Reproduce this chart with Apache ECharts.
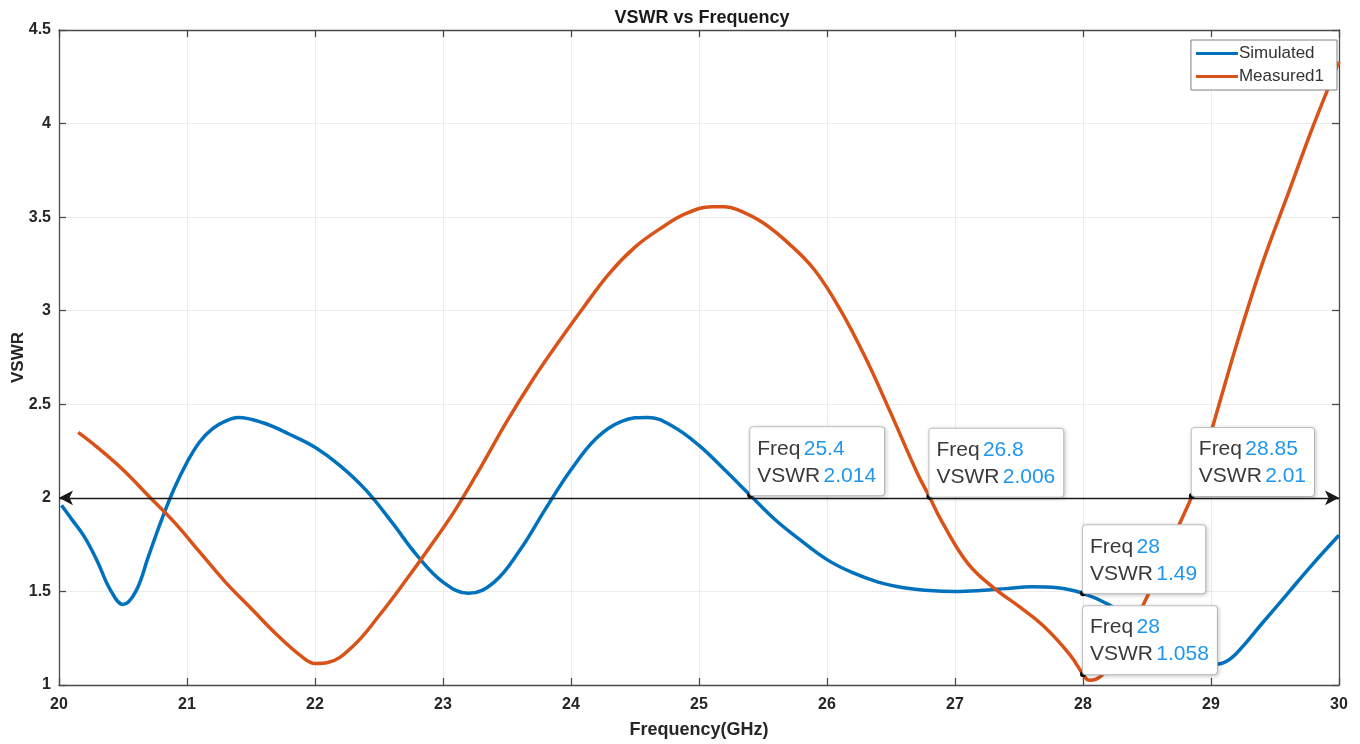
<!DOCTYPE html>
<html>
<head>
<meta charset="utf-8">
<title>VSWR vs Frequency</title>
<script src="https://cdn.jsdelivr.net/npm/echarts@6/dist/echarts.min.js"></script>
<style>
  html, body { margin: 0; padding: 0; background: #ffffff; }
  #chart { width: 1360px; height: 744px; }
</style>
</head>
<body>
<div id="chart"></div>
<script>
// Simulated VSWR (GHz, VSWR)
const simFreq = [20.02, 20.1, 20.2, 20.3, 20.4, 20.5, 20.6, 20.7, 20.8, 20.9, 21.0, 21.1, 21.2, 21.3, 21.4, 21.6, 21.8, 22.0, 22.2, 22.4, 22.6, 22.8, 23.0, 23.2, 23.4, 23.6, 23.8, 24.0, 24.2, 24.4, 24.6, 24.8, 25.0, 25.2, 25.4, 25.6, 25.8, 26.0, 26.2, 26.4, 26.6, 26.8, 27.0, 27.2, 27.4, 27.6, 27.8, 28.0, 28.2, 28.4, 28.6, 28.8, 29.0, 29.1, 29.2, 29.4, 29.6, 29.8, 30.0];
const simVswr = [1.96, 1.885, 1.79, 1.66, 1.51, 1.43, 1.50, 1.69, 1.88, 2.05, 2.19, 2.30, 2.37, 2.41, 2.43, 2.40, 2.34, 2.27, 2.17, 2.04, 1.87, 1.69, 1.55, 1.49, 1.55, 1.72, 1.94, 2.15, 2.32, 2.41, 2.43, 2.38, 2.28, 2.15, 2.014, 1.88, 1.77, 1.67, 1.60, 1.55, 1.52, 1.505, 1.50, 1.505, 1.515, 1.525, 1.52, 1.49, 1.43, 1.34, 1.24, 1.16, 1.11, 1.12, 1.17, 1.33, 1.49, 1.65, 1.80];

// Measured VSWR (GHz, VSWR)
const measFreq = [20.15, 20.3, 20.5, 20.7, 20.9, 21.1, 21.3, 21.5, 21.7, 21.9, 22.0, 22.1, 22.3, 22.5, 22.7, 22.9, 23.1, 23.3, 23.5, 23.7, 23.9, 24.1, 24.3, 24.5, 24.7, 24.9, 25.1, 25.2, 25.3, 25.5, 25.7, 25.9, 26.1, 26.3, 26.5, 26.7, 26.8, 26.9, 27.1, 27.3, 27.5, 27.7, 27.9, 28.0, 28.05, 28.1, 28.2, 28.3, 28.4, 28.5, 28.6, 28.7, 28.8, 28.85, 29.0, 29.2, 29.4, 29.6, 29.8, 30.0];
const measVswr = [2.35, 2.27, 2.15, 2.01, 1.87, 1.71, 1.55, 1.41, 1.27, 1.15, 1.115, 1.12, 1.21, 1.37, 1.55, 1.74, 1.94, 2.17, 2.41, 2.63, 2.83, 3.02, 3.20, 3.34, 3.44, 3.52, 3.555, 3.555, 3.54, 3.47, 3.36, 3.22, 3.01, 2.75, 2.45, 2.14, 2.006, 1.87, 1.65, 1.52, 1.42, 1.31, 1.16, 1.058, 1.025, 1.03, 1.09, 1.20, 1.33, 1.47, 1.62, 1.78, 1.93, 2.01, 2.35, 2.82, 3.25, 3.62, 3.99, 4.33];

// Data tips
const tipFreq = [25.4, 26.8, 28.85, 28, 28];
const tipVswr = [2.014, 2.006, 2.01, 1.49, 1.058];

// Reference level for the arrow line
const refLevel = 2;

const pairs = (xs, ys) => xs.map((x, i) => [x, ys[i]]);

const FONT = 'Liberation Sans, Arial, sans-serif';
const axisColor = '#4a4a4a';
const tickFont = { color: '#262626', fontSize: 16, fontWeight: 'bold', fontFamily: FONT };

const chart = echarts.init(document.getElementById('chart'), null, { renderer: 'canvas' });

chart.setOption({
  animation: false,
  backgroundColor: '#ffffff',
  title: {
    text: 'VSWR vs Frequency',
    left: 697,
    textAlign: 'center',
    top: 4,
    textStyle: { fontSize: 18, fontWeight: 'bold', color: '#1a1a1a', fontFamily: FONT }
  },
  legend: {
    orient: 'vertical',
    right: 23,
    top: 40,
    icon: 'rect',
    itemWidth: 42,
    itemHeight: 3,
    itemGap: 6,
    padding: [5, 13, 5, 5],
    backgroundColor: '#ffffff',
    borderColor: '#808080',
    borderWidth: 1,
    textStyle: { fontSize: 17, color: '#333333', fontFamily: FONT, padding: [0, 0, 0, -4] },
    data: ['Simulated', 'Measured1']
  },
  grid: { left: 59, right: 21, top: 30, bottom: 59, containLabel: false, outerBoundsMode: 'none' },
  xAxis: [
    {
      type: 'value', min: 20, max: 30, interval: 1,
      name: 'Frequency(GHz)', nameLocation: 'middle', nameGap: 36, nameMoveOverlap: false,
      nameTextStyle: { fontSize: 18, fontWeight: 'bold', color: '#262626', fontFamily: FONT },
      axisLine: { show: true, onZero: false, lineStyle: { color: axisColor, width: 1.3 } },
      axisTick: { show: true, inside: true, length: 7, lineStyle: { color: axisColor, width: 1.3 } },
      axisLabel: Object.assign({ margin: 12 }, tickFont),
      splitLine: { show: true, lineStyle: { color: '#ececec', width: 1 } }
    },
    {
      type: 'value', min: 20, max: 30, interval: 1, position: 'top',
      axisLine: { show: true, onZero: false, lineStyle: { color: axisColor, width: 1.3 } },
      axisTick: { show: true, inside: true, length: 7, lineStyle: { color: axisColor, width: 1.3 } },
      axisLabel: { show: false },
      splitLine: { show: false }
    }
  ],
  yAxis: [
    {
      type: 'value', min: 1, max: 4.5, interval: 0.5,
      name: 'VSWR', nameLocation: 'middle', nameGap: 32, nameRotate: 90, nameMoveOverlap: false,
      nameTextStyle: { fontSize: 17, fontWeight: 'bold', color: '#262626', fontFamily: FONT },
      axisLine: { show: true, onZero: false, lineStyle: { color: axisColor, width: 1.3 } },
      axisTick: { show: true, inside: true, length: 7, lineStyle: { color: axisColor, width: 1.3 } },
      axisLabel: Object.assign({ margin: 8 }, tickFont),
      splitLine: { show: true, lineStyle: { color: '#ececec', width: 1 } }
    },
    {
      type: 'value', min: 1, max: 4.5, interval: 0.5, position: 'right',
      axisLine: { show: true, onZero: false, lineStyle: { color: axisColor, width: 1.3 } },
      axisTick: { show: true, inside: true, length: 7, lineStyle: { color: axisColor, width: 1.3 } },
      axisLabel: { show: false },
      splitLine: { show: false }
    }
  ],
  series: [
    {
      name: 'Simulated',
      type: 'line',
      data: pairs(simFreq, simVswr),
      smooth: 0.4,
      showSymbol: false,
      lineStyle: { color: '#0072BD', width: 3.5 },
      itemStyle: { color: '#0072BD' },
      z: 2
    },
    {
      name: 'Measured1',
      type: 'line',
      data: pairs(measFreq, measVswr),
      smooth: 0.4,
      showSymbol: false,
      lineStyle: { color: '#D95319', width: 3.5 },
      itemStyle: { color: '#D95319' },
      z: 3
    },
    {
      name: 'tips',
      type: 'scatter',
      data: pairs(tipFreq, tipVswr),
      symbolSize: 6,
      itemStyle: { color: '#111111', opacity: 1 },
      z: 6,
      silent: true,
      markLine: {
        silent: true,
        symbol: ['arrow', 'arrow'],
        symbolSize: [11, 14],
        label: { show: false },
        lineStyle: { color: '#1a1a1a', width: 1.3, type: 'solid', opacity: 1 },
        data: [[{ coord: [20, refLevel] }, { coord: [30, refLevel] }]]
      },
      label: {
        show: true,
        opacity: 1,
        position: [3, 3],
        align: 'left',
        verticalAlign: 'bottom',
        backgroundColor: '#ffffff',
        borderColor: '#c8c8c8',
        borderWidth: 1,
        borderRadius: 3,
        padding: [8, 8, 6, 7],
        shadowColor: 'rgba(0,0,0,0.18)',
        shadowBlur: 4,
        shadowOffsetX: 1,
        shadowOffsetY: 1,
        formatter: p => '{k|Freq} {v|' + String(p.value[0]) + '}\n{k|VSWR} {v|' + String(p.value[1]) + '}',
        rich: {
          k: { fontSize: 21, color: '#3a3a3a', lineHeight: 27, fontFamily: FONT },
          v: { fontSize: 21, color: '#1E96EE', lineHeight: 27, fontFamily: FONT }
        }
      }
    }
  ]
});
</script>
</body>
</html>
